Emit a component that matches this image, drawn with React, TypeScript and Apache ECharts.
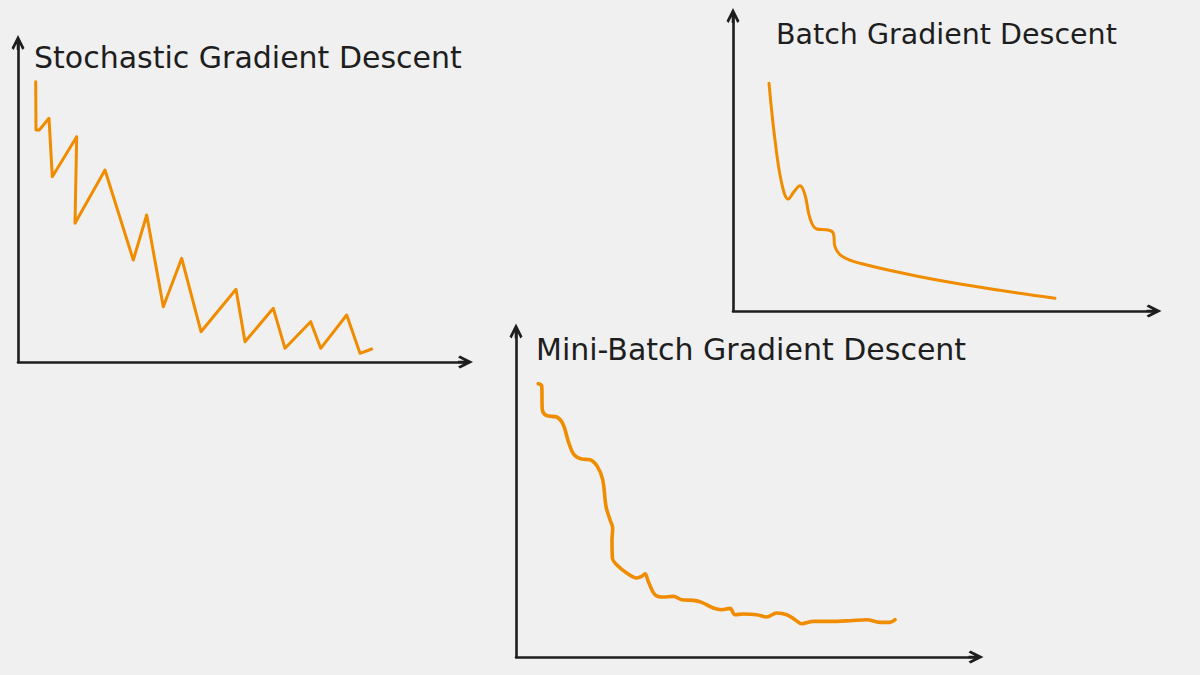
import React, { useEffect, useRef } from "react";
import * as echarts from "echarts";

// ---- Data (x: distance along the axis, y: height above the axis) ----
const titles = ["Stochastic Gradient Descent", "Batch Gradient Descent", "Mini-Batch Gradient Descent"];

const sgdX = [17.7, 18, 21.3, 31, 34.3, 58.7, 57, 87, 115.3, 128.7, 145.3, 163.7, 183, 218, 227, 255.3, 267, 292.7, 302.7, 328.7, 342, 353.7];
const sgdY = [280.3, 232, 232, 243.7, 185.3, 225.3, 138.7, 192, 102, 147, 55.3, 103.7, 30.3, 72.7, 20.3, 53.7, 13.7, 40.3, 13.7, 47, 8.7, 13];

const batchX = [36, 42, 48.7, 55.3, 61, 67, 72, 77, 83.7, 95.3, 100.3, 102, 108.7, 127, 187, 253.7, 322];
const batchY = [227.7, 171, 127.7, 112, 119.3, 125.3, 116, 92.7, 82, 81, 77.7, 64.3, 55, 47.7, 34.3, 22.7, 12.7];

const miniX = [22.3, 25.7, 26.3, 30.7, 40.7, 47.3, 52.3, 58, 65.7, 74, 81.3, 86.7, 90, 94, 96.7, 96, 96.4, 100.7, 110.7, 120.7, 125.7, 129, 132.3, 139, 147.3, 157.3, 165.7, 177.3, 185.7, 197.3, 205.7, 214, 219, 227.3, 240.7, 250.7, 260.7, 270.7, 279, 285.7, 297.3, 314, 334, 350.7, 364, 374, 379];
const miniY = [273.3, 271.3, 247.3, 241.3, 240, 232.3, 215.6, 202.3, 198, 197.3, 190.6, 177.3, 150.6, 137.3, 129, 117.3, 99, 92.3, 84, 79, 80.6, 83.3, 75.6, 62.3, 60, 60.6, 57.3, 56.6, 54.6, 49, 47.3, 48.6, 42.3, 43, 42.3, 40, 44, 42.3, 37.3, 33.3, 35.6, 35.6, 36.3, 37.3, 34.6, 34.6, 37.3];

const zip = (xs: number[], ys: number[]) => xs.map((x, i) => [x, ys[i]]);

const INK = "#1e1e1e";
const ORANGE = "#f08c00";
const BG = "#f0f0f0";
const FONT = "'DejaVu Sans', 'Open Sans', sans-serif";
// open chevron arrow head (pointing up before the axis rotates it) with a short stem
const ARROW = "path://M0,0 L6.5,13 L4.4,15 L1.3,8.8 L1.3,15 L-1.3,15 L-1.3,8.8 L-4.4,15 L-6.5,13 Z";

// panel layout in pixels: grid box (axis line end; arrow tip lies 7.5px beyond)
const panels = [
  { left: 18, top: 42.5, width: 447.5, height: 319.5 },
  { left: 733, top: 15.5, width: 421, height: 295.5 },
  { left: 516, top: 331, width: 460, height: 326 },
];

export default function App() {
  const ref = useRef<HTMLDivElement>(null);
  useEffect(() => {
    if (!ref.current) return;
    const chart = echarts.init(ref.current, null, { renderer: "svg" });
    const axisBase = (i: number) => ({
      type: "value" as const,
      gridIndex: i,
      min: 0,
      axisLine: {
        show: true,
        onZero: false,
        symbol: ["none", ARROW],
        symbolSize: [13, 15],
        lineStyle: { color: INK, width: 2.6, cap: "round" },
      },
      axisTick: { show: false },
      axisLabel: { show: false },
      splitLine: { show: false },
    });
    const lineSeries = (i: number, data: number[][], width: number, smooth: number | boolean) => ({
      type: "line" as const,
      xAxisIndex: i,
      yAxisIndex: i,
      data,
      smooth,
      showSymbol: false,
      symbol: "none",
      lineStyle: { color: ORANGE, width, cap: "round", join: "round" },
      silent: true,
    });
    chart.setOption({
      animation: false,
      backgroundColor: BG,
      grid: panels.map((p) => ({ left: p.left, top: p.top, width: p.width, height: p.height, containLabel: false })),
      xAxis: panels.map((p, i) => ({ ...axisBase(i), max: p.width })),
      yAxis: panels.map((p, i) => ({ ...axisBase(i), max: p.height })),
      series: [
        lineSeries(0, zip(sgdX, sgdY), 3, false),
        lineSeries(1, zip(batchX, batchY), 3, 0.4),
        lineSeries(2, zip(miniX, miniY), 3.6, 0.35),
      ],
      graphic: [
        { type: "text", left: 34, top: 42, style: { text: titles[0], font: `30px ${FONT}`, fill: INK } },
        { type: "text", left: 776, top: 20, style: { text: titles[1], font: `28.5px ${FONT}`, fill: INK } },
        { type: "text", left: 536, top: 334.5, style: { text: titles[2], font: `30px ${FONT}`, fill: INK } },
      ],
    });
    return () => chart.dispose();
  }, []);
  return <div ref={ref} style={{ position: "fixed", left: 0, top: 0, width: 1200, height: 675 }} />;
}
